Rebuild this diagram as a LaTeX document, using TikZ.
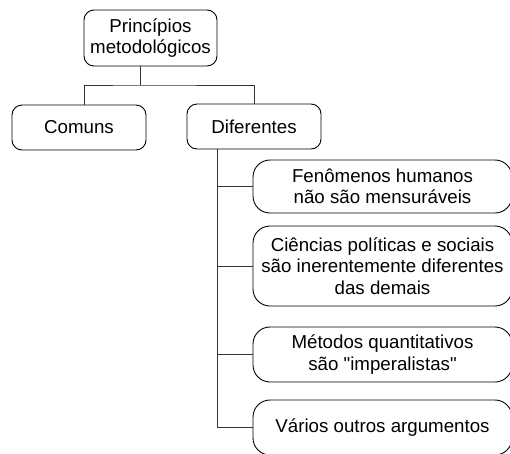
\documentclass[tikz,border=0pt]{standalone}
\usepackage{fontspec}
\setmainfont{Liberation Sans}
\newcommand{\sq}{\XeTeXglyph\XeTeXcharglyph"0022\relax}
\begin{document}
\begin{tikzpicture}[x=1pt,y=-1pt,
  every node/.style={font=\fontsize{18.7}{21.5}\selectfont, align=center, inner sep=0pt},
  box/.style={draw, line width=0.9pt, rounded corners=10pt},
  rbox/.style={draw, line width=0.9pt, rounded corners=17pt, minimum width=259pt},
  conn/.style={line width=0.9pt, draw=black!80}]
\useasboundingbox (0,0) rectangle (510,453);
\clip (0,0) rectangle (510,453);
\node[box, minimum width=133pt, minimum height=56pt] (top) at (150.5,38) {Princípios\\metodológicos};
\node[box, minimum width=134pt, minimum height=45pt] (com) at (79,127.5) {Comuns};
\node[box, minimum width=134pt, minimum height=45pt] (dif) at (254,126.5) {Diferentes};
\node[rbox, minimum height=53pt] (f1) at (382.5,186.5) {Fenômenos humanos\\não são mensuráveis};
\node[rbox, minimum height=80pt] (f2) at (382.5,266) {Ciências políticas e sociais\\são inerentemente diferentes\\das demais};
\node[rbox, minimum height=55pt] (f3) at (382.5,354.5) {Métodos quantitativos\\são \sq imperalistas\sq};
\node[rbox, minimum height=55pt] (f4) at (382.5,427.5) {Vários outros argumentos};
\coordinate (bus) at (140,85);
\draw[conn] ([xshift=-10.5pt]top.south) -- (bus);
\draw[conn] ([xshift=5pt]com.north) |- (bus) -| (dif.north);
\coordinate (tr) at ([xshift=-37pt]dif.south);
\draw[conn] (tr) |- (f4.west);
\draw[conn] (tr |- f1.west) -- (f1.west);
\draw[conn] (tr |- f2.west) -- (f2.west);
\draw[conn] (tr |- f3.west) -- (f3.west);
\end{tikzpicture}
\end{document}
